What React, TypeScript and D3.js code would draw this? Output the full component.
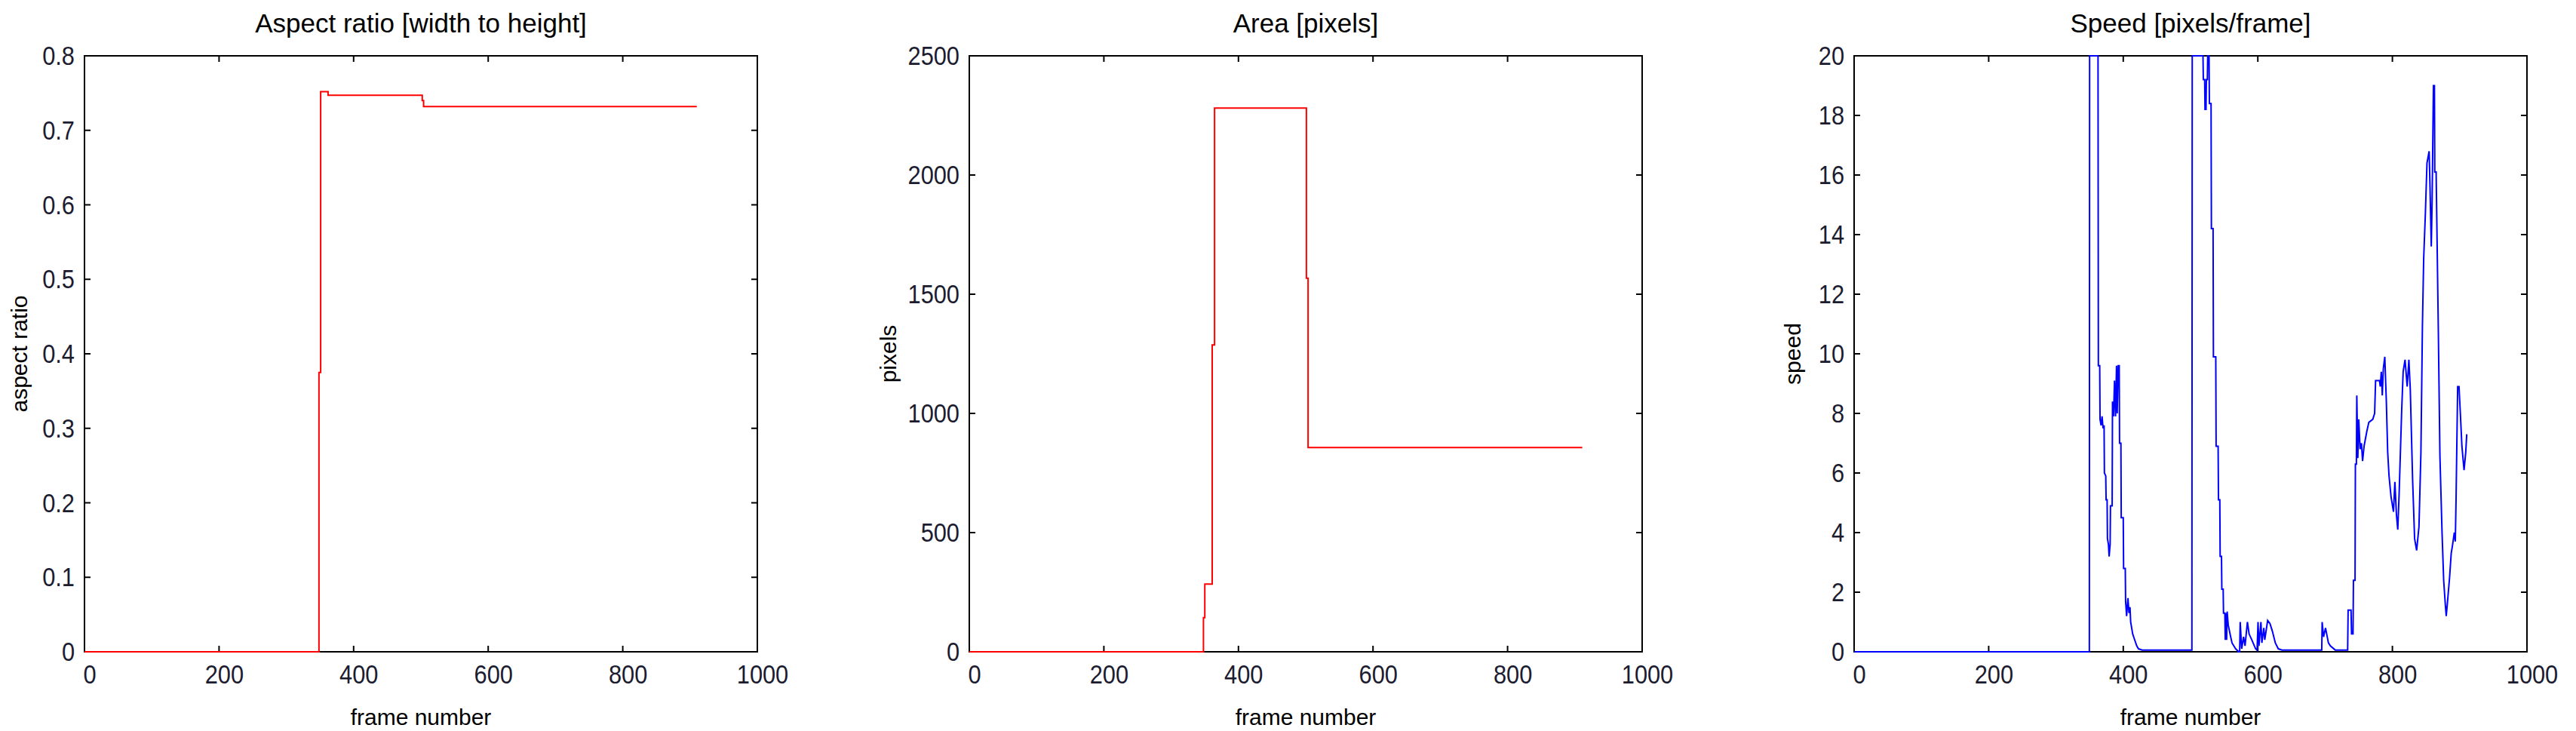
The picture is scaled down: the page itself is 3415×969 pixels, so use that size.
import React from "react";
import * as d3 from "d3";

// frame axis shared by all three panels
const xTicks = [0, 200, 400, 600, 800, 1000];

// aspect ratio (step data)
const aspectFrames = [0, 348.5, 351, 362, 502, 504, 910];
const aspectValues = [0, 0.375, 0.752, 0.747, 0.74, 0.732, 0.732];
const aspectTicks = [0, 0.1, 0.2, 0.3, 0.4, 0.5, 0.6, 0.7, 0.8];
const aspectTickLabels = ["0", "0.1", "0.2", "0.3", "0.4", "0.5", "0.6", "0.7", "0.8"];

// area in pixels (step data)
const areaFrames = [0, 348, 350, 361, 364.5, 501, 503.5, 911];
const areaValues = [0, 143, 284, 1287, 2281, 1567, 857, 857];
const areaTicks = [0, 500, 1000, 1500, 2000, 2500];

// speed in pixels/frame
const speedFrames = [
  0, 349.6, 350, 362.5, 363, 365, 365.5, 367, 368.5, 370, 371.5, 372, 374, 374.5, 376, 376.5, 378, 379, 380.5,
  381, 383.5, 384, 385.5, 387, 388.5, 390, 391, 392.5, 394, 394.5, 396.5, 397, 400, 400.5, 403, 403.5, 405, 407,
  408.5, 410, 411, 414, 417, 420, 422.6, 428, 502, 502.5, 518.5, 519, 521, 521.5, 523, 523.5, 525, 525.5, 527.5,
  528, 530.5, 531, 533.5, 534, 537.5, 538, 541, 541.5, 543.5, 544, 546, 546.5, 548.5, 549, 551, 551.6, 553, 553.6,
  554.4, 556, 558.7, 561.6, 567, 571.6, 573, 573.8, 576, 578.8, 581, 584.5, 587, 591, 596.7, 598.9, 600.3, 601.7,
  604.6, 606, 608.9, 610.3, 614.6, 618, 621.5, 626, 630.4, 636, 695, 695.6, 697.7, 700.6, 704.9, 707.7, 715, 733.5,
  734.2, 738.5, 739.3, 741.5, 742.1, 744.5, 745, 746.5, 747.1, 748.6, 750, 752, 754, 755.7, 757.9, 762, 765, 770.8,
  773.6, 775, 780.8, 782, 783.5, 785, 786.5, 788.7, 791, 793, 795, 798, 801.6, 803.7, 806, 808, 810, 813.8, 816,
  818.8, 822, 824.5, 826.6, 830, 833, 836, 839.5, 842.4, 844.6, 846.5, 849, 851.4, 854.6, 856, 857.8, 859, 861,
  862.5, 863, 865, 868.2, 870.6, 873.8, 876.2, 878.6, 880, 882, 885, 887.4, 889.5, 892, 893.5, 894.6, 897, 899, 901,
  903.3, 906.5, 909, 910.5,
];
const speedValues = [
  0, 0, 20, 20, 9.6, 9.6, 7.8, 7.6, 7.9, 7.5, 7.6, 6.0, 5.9, 5.1, 5.1, 3.8, 3.6, 3.2, 3.6,
  4.9, 4.9, 8.4, 7.9, 9.1, 7.9, 9.6, 8.0, 9.6, 9.6, 7.0, 7.0, 4.5, 4.5, 2.8, 2.8, 1.7, 1.2, 1.8,
  1.3, 1.5, 1.0, 0.6, 0.4, 0.2, 0.1, 0.06, 0.06, 20, 20, 19.2, 19.2, 18.2, 18.2, 19.2, 19.2, 20, 20,
  18.4, 18.4, 14.2, 14.2, 9.9, 9.9, 6.9, 6.9, 5.1, 5.1, 3.2, 3.2, 2.1, 2.1, 1.3, 1.3, 0.4, 1.3, 0.4,
  1.35, 0.9, 0.6, 0.3, 0.1, 0, 0, 1.0, 0.1, 0.5, 0.2, 1.0, 0.6, 0.4, 0.1, 0.05, 1.0, 0.2,
  1.0, 0.3, 0.8, 0.4, 1.05, 0.95, 0.7, 0.3, 0.1, 0.06, 0.06, 1.0, 0.5, 0.8, 0.3, 0.2, 0.06, 0.06,
  1.4, 1.4, 0.6, 0.6, 2.4, 2.4, 6.3, 6.3, 8.6, 6.5, 7.8, 6.8, 7.0, 6.4, 6.9, 7.4, 7.7, 7.8,
  8.0, 9.1, 9.1, 8.9, 9.4, 8.6, 9.5, 9.9, 8.4, 6.7, 5.9, 5.2, 4.7, 5.7, 4.6, 4.1, 5.3, 8.1, 9.4,
  9.8, 8.9, 9.8, 8.8, 5.8, 3.8, 3.4, 4.2, 6.7, 10.9, 13.2, 14.7, 16.4, 16.8, 15.5, 13.6, 15.1, 19.0,
  19.0, 16.1, 16.1, 10.9, 6.6, 4.0, 2.4, 1.6, 1.2, 1.7, 2.5, 3.3, 3.6, 4.0, 3.7, 5.1, 8.9, 8.9, 8.0,
  6.9, 6.1, 6.7, 7.3,
];
const speedTicks = [0, 2, 4, 6, 8, 10, 12, 14, 16, 18, 20];

const WIDTH = 3415;
const HEIGHT = 969;
const TOP = 74;
const BOTTOM = 864;
const PLOT_W = 892;
const FONT = "'Liberation Sans', Arial, Helvetica, sans-serif";

type PanelProps = {
  id: string;
  left: number;
  title: string;
  ylabel: string;
  ylabelX: number;
  frames: number[];
  values: number[];
  yMax: number;
  yTicks: number[];
  yTickLabels?: string[];
  color: string;
  curve: d3.CurveFactory;
};

const Panel = ({ id, left, title, ylabel, ylabelX, frames, values, yMax, yTicks, yTickLabels, color, curve }: PanelProps) => {
  const x = d3.scaleLinear().domain([0, 1000]).range([left, left + PLOT_W]);
  const y = d3.scaleLinear().domain([0, yMax]).range([BOTTOM, TOP]);
  const pts: [number, number][] = frames.map((f, i) => [f, values[i]]);
  const line = d3
    .line<[number, number]>()
    .x((d) => x(d[0]))
    .y((d) => y(d[1]))
    .curve(curve);
  const cx = left + PLOT_W / 2;
  const tickLen = 8;

  return (
    <g>
      <defs>
        <clipPath id={id}>
          <rect x={left - 2} y={TOP - 2} width={PLOT_W + 4} height={BOTTOM - TOP + 4} />
        </clipPath>
      </defs>
      {/* title */}
      <text x={cx} y={43} textAnchor="middle" fontSize={35} fontFamily={FONT} fill="#000">
        {title}
      </text>
      {/* box */}
      <rect x={left} y={TOP} width={PLOT_W} height={BOTTOM - TOP} fill="none" stroke="#000" strokeWidth={2} />
      {/* x ticks, inward top and bottom */}
      {xTicks.map((t) => (
        <g key={"x" + t}>
          <line x1={x(t)} x2={x(t)} y1={BOTTOM} y2={BOTTOM - tickLen} stroke="#000" strokeWidth={2} />
          <line x1={x(t)} x2={x(t)} y1={TOP} y2={TOP + tickLen} stroke="#000" strokeWidth={2} />
          <text
            transform={`translate(${x(t) + 7},${906}) scale(0.88,1)`}
            textAnchor="middle"
            fontSize={35}
            fontFamily={FONT}
            fill="#1c1c30"
          >
            {t}
          </text>
        </g>
      ))}
      {/* y ticks, inward left and right */}
      {yTicks.map((t, i) => (
        <g key={"y" + t}>
          <line x1={left} x2={left + tickLen} y1={y(t)} y2={y(t)} stroke="#000" strokeWidth={2} />
          <line x1={left + PLOT_W} x2={left + PLOT_W - tickLen} y1={y(t)} y2={y(t)} stroke="#000" strokeWidth={2} />
          <text
            transform={`translate(${left - 13},${y(t) + 12}) scale(0.88,1)`}
            textAnchor="end"
            fontSize={35}
            fontFamily={FONT}
            fill="#1c1c30"
          >
            {yTickLabels ? yTickLabels[i] : t}
          </text>
        </g>
      ))}
      {/* axis labels */}
      <text x={cx} y={961} textAnchor="middle" fontSize={30} fontFamily={FONT} fill="#000">
        frame number
      </text>
      <text
        transform={`translate(${ylabelX + 10},${(TOP + BOTTOM) / 2}) rotate(-90)`}
        textAnchor="middle"
        fontSize={30}
        fontFamily={FONT}
        fill="#000"
      >
        {ylabel}
      </text>
      {/* data */}
      <path d={line(pts) || ""} fill="none" stroke={color} strokeWidth={2} clipPath={`url(#${id})`} />
    </g>
  );
};

export default function App() {
  return (
    <svg
      width={WIDTH}
      height={HEIGHT}
      style={{ position: "absolute", left: 0, top: 0, background: "#fff" }}
    >
      <rect width={WIDTH} height={HEIGHT} fill="#fff" />
      <Panel
        id="clipAspect"
        left={112}
        title="Aspect ratio [width to height]"
        ylabel="aspect ratio"
        ylabelX={26}
        frames={aspectFrames}
        values={aspectValues}
        yMax={0.8}
        yTicks={aspectTicks}
        yTickLabels={aspectTickLabels}
        color="#ff0000"
        curve={d3.curveStepAfter}
      />
      <Panel
        id="clipArea"
        left={1285}
        title="Area [pixels]"
        ylabel="pixels"
        ylabelX={1178}
        frames={areaFrames}
        values={areaValues}
        yMax={2500}
        yTicks={areaTicks}
        color="#ff0000"
        curve={d3.curveStepAfter}
      />
      <Panel
        id="clipSpeed"
        left={2458}
        title="Speed [pixels/frame]"
        ylabel="speed"
        ylabelX={2377}
        frames={speedFrames}
        values={speedValues}
        yMax={20}
        yTicks={speedTicks}
        color="#0000ff"
        curve={d3.curveLinear}
      />
    </svg>
  );
}
